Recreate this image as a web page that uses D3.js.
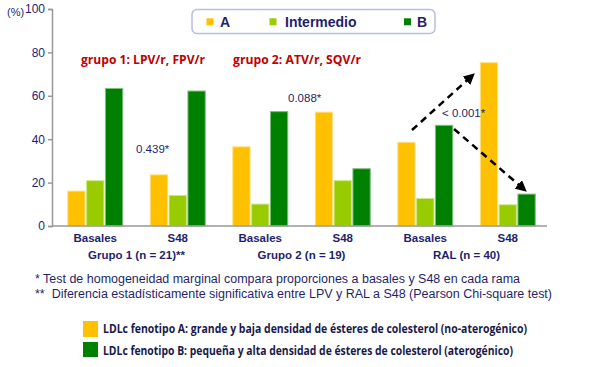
<!DOCTYPE html>
<html><head><meta charset="utf-8">
<script src="https://cdn.jsdelivr.net/npm/d3@7/dist/d3.min.js"></script>
<style>body{margin:0;background:#fff}svg{display:block}</style>
</head><body>
<svg id="c" width="600" height="367"></svg>
<script>
const categories = ["Basales","S48","Basales","S48","Basales","S48"];
const groupLabels = ["Grupo 1 (n = 21)**","Grupo 2 (n = 19)","RAL (n = 40)"];
const seriesNames = ["A","Intermedio","B"];
const valuesA = [16.1, 23.6, 36.5, 52.5, 38.6, 75.3];
const valuesInter = [20.9, 14.1, 10.1, 20.9, 12.7, 9.8];
const valuesB = [63.4, 62.2, 52.7, 26.4, 46.4, 14.7];
const yTicks = [0,20,40,60,80,100];
const pValues = ["0.439*","0.088*","< 0.001*"];
const colors = ["#FFC000","#99CC00","#008000"];
const strokes = ["#FFE38A","#CCE88A","#7FBF7F"];

const svg = d3.select("#c");
const navy = "#1F1F6E";
const x = d3.scaleBand().domain(d3.range(6)).range([54,549]).paddingInner(0).paddingOuter(0);
const y = d3.scaleLinear().domain([0,100]).range([226,9]);
const sub = d3.scaleBand().domain(d3.range(3)).range([0,55]).paddingInner(0.08);
const offs = (x.bandwidth()-55)/2;

// y axis
const ya = svg.append("g").attr("transform","translate(52,0)")
  .call(d3.axisLeft(y).tickValues(yTicks).tickSize(4).tickPadding(3));
ya.select(".domain").attr("stroke","#999").attr("stroke-width",1.5);
ya.selectAll(".tick line").attr("stroke","#999").attr("stroke-width",1.5);
ya.selectAll("text").attr("fill",navy).attr("font-family","Liberation Sans, Arial").attr("font-size",12);
svg.append("text").attr("x",7).attr("y",16).text("(%)").attr("fill",navy)
  .attr("font-family","Liberation Sans, Arial").attr("font-size",11);

// bars
const series = [valuesA, valuesInter, valuesB];
series.forEach((vals,s)=>{
  svg.append("g").selectAll("rect").data(vals).join("rect")
    .attr("x",(d,i)=>x(i)+offs+sub(s))
    .attr("width",sub.bandwidth())
    .attr("y",d=>y(d))
    .attr("height",d=>y(0)-y(d))
    .attr("fill",colors[s])
    .attr("stroke",strokes[s]).attr("stroke-width",1);
});

// baseline
svg.append("line").attr("x1",52).attr("x2",547).attr("y1",y(0)).attr("y2",y(0))
  .attr("stroke","#999").attr("stroke-width",1.5);

// category labels
svg.append("g").selectAll("text").data(categories).join("text")
  .attr("x",(d,i)=>x(i)+x.bandwidth()/2).attr("y",242)
  .attr("text-anchor","middle").attr("font-family","Liberation Sans, Arial")
  .attr("font-weight","bold").attr("font-size",11.5).attr("fill",navy).text(d=>d);
svg.append("g").selectAll("text").data(groupLabels).join("text")
  .attr("x",(d,i)=>x(2*i+1)).attr("y",259)
  .attr("text-anchor","middle").attr("font-family","Liberation Sans, Arial")
  .attr("font-weight","bold").attr("font-size",11.5).attr("fill",navy).text(d=>d);

// legend box
const lg = svg.append("g");
lg.append("rect").attr("x",192).attr("y",9.5).attr("width",243).attr("height",24).attr("rx",5)
  .attr("fill","#fff").attr("stroke","#B8BEDC").attr("stroke-width",1.5);
const legX = [206.5,269.5,404];
const legT = [220,285,417];
seriesNames.forEach((n,i)=>{
  lg.append("rect").attr("x",legX[i]).attr("y",18.3).attr("width",7).attr("height",7).attr("fill",colors[i]);
  lg.append("text").attr("x",legT[i]).attr("y",26.5).text(n)
    .attr("font-family","Liberation Sans, Arial").attr("font-weight","bold").attr("font-size",14).attr("fill",navy);
});

// red group titles
svg.append("text").attr("x",81).attr("y",64).text("grupo 1: LPV/r, FPV/r")
  .attr("font-family","Open Sans, Noto Sans").attr("font-weight","bold").attr("font-size",12.5)
  .attr("fill","#C00000").attr("textLength",124).attr("lengthAdjust","spacingAndGlyphs");
svg.append("text").attr("x",233).attr("y",64).text("grupo 2: ATV/r, SQV/r")
  .attr("font-family","Open Sans, Noto Sans").attr("font-weight","bold").attr("font-size",12.5)
  .attr("fill","#C00000").attr("textLength",128).attr("lengthAdjust","spacingAndGlyphs");

// p values
const pPos = [[136,153],[288,102],[442,117]];
pValues.forEach((p,i)=>{
  svg.append("text").attr("x",pPos[i][0]).attr("y",pPos[i][1]).text(p)
    .attr("font-family","Liberation Sans, Arial").attr("font-size",11.5).attr("fill",navy);
});

// dashed arrows
const defs = svg.append("defs");
defs.append("marker").attr("id","ah").attr("viewBox","0 0 10 10").attr("refX",9).attr("refY",5)
  .attr("markerWidth",4.5).attr("markerHeight",4.5).attr("orient","auto")
  .append("path").attr("d","M0,0L10,5L0,10z").attr("fill","#000");
svg.append("line").attr("x1",412).attr("y1",130).attr("x2",474).attr("y2",74)
  .attr("stroke","#000").attr("stroke-width",2.5).attr("stroke-dasharray","7,5").attr("marker-end","url(#ah)");
svg.append("line").attr("x1",454).attr("y1",129).attr("x2",526).attr("y2",191)
  .attr("stroke","#000").attr("stroke-width",2.5).attr("stroke-dasharray","7,5").attr("marker-end","url(#ah)");

// footnotes
svg.append("text").attr("x",35).attr("y",283).text("* Test de homogeneidad marginal compara proporciones a basales y S48 en cada rama")
  .attr("font-family","Liberation Sans, Arial").attr("font-size",12.5).attr("fill",navy)
  .attr("textLength",485).attr("lengthAdjust","spacingAndGlyphs");
svg.append("text").attr("x",35).attr("y",298).text("**  Diferencia estadísticamente significativa entre LPV y RAL a S48 (Pearson Chi-square test)")
  .attr("font-family","Liberation Sans, Arial").attr("font-size",12.5).attr("fill",navy)
  .attr("textLength",517).attr("lengthAdjust","spacingAndGlyphs").attr("xml:space","preserve");

// bottom legend
svg.append("rect").attr("x",83).attr("y",321).attr("width",15).attr("height",16).attr("fill",colors[0]);
svg.append("rect").attr("x",83).attr("y",342).attr("width",15).attr("height",15).attr("fill",colors[2]);
svg.append("text").attr("x",103).attr("y",333).text("LDLc fenotipo A: grande y baja densidad de ésteres de colesterol (no-aterogénico)")
  .attr("font-family","Open Sans, Noto Sans").attr("font-weight","bold").attr("font-size",12).attr("fill","#1a1a4a")
  .attr("textLength",424).attr("lengthAdjust","spacingAndGlyphs");
svg.append("text").attr("x",103).attr("y",355).text("LDLc fenotipo B: pequeña y alta densidad de ésteres de colesterol (aterogénico)")
  .attr("font-family","Open Sans, Noto Sans").attr("font-weight","bold").attr("font-size",12).attr("fill","#1a1a4a")
  .attr("textLength",410).attr("lengthAdjust","spacingAndGlyphs");
</script>
</body></html>
